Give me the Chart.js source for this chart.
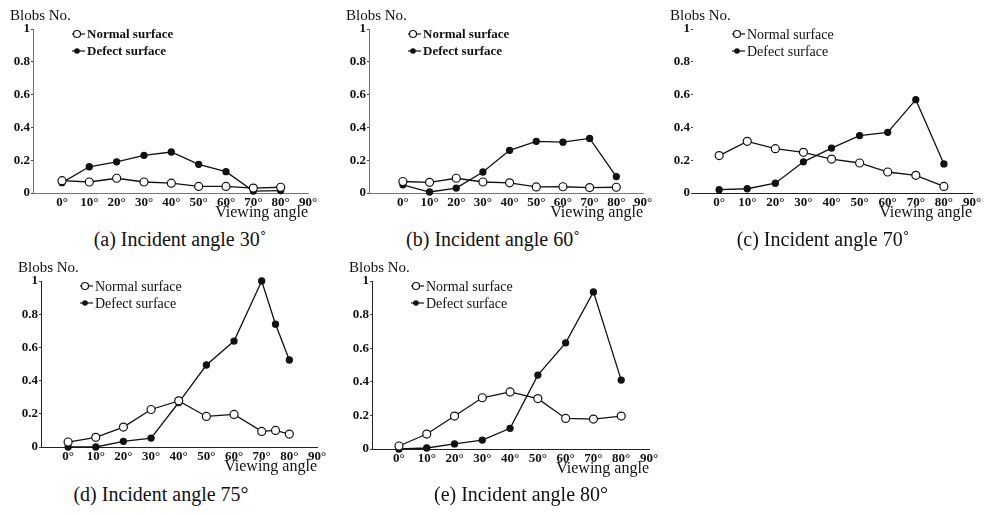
<!DOCTYPE html>
<html>
<head>
<meta charset="utf-8">
<script src="https://cdn.jsdelivr.net/npm/chart.js@4.4.0/dist/chart.umd.min.js"></script>
<style>
body { margin: 0; background: #fff; }
#wrap { position: relative; width: 984px; height: 516px; overflow: hidden; font-family: "Liberation Serif", serif; }
#wrap canvas { position: absolute; }
.cap { position: absolute; font-size: 20px; line-height: 20px; color: #111; white-space: nowrap; transform: translateX(-50%); }
</style>
</head>
<body>
<div id="wrap"></div>
<script>
// viewing angles (deg)
var angles = [0, 10, 20, 30, 40, 50, 60, 70, 80];
var anglesD = [0, 10, 20, 30, 40, 50, 60, 70, 75, 80];
var xTicks = [0, 10, 20, 30, 40, 50, 60, 70, 80, 90];
var yTicks = [0, 0.2, 0.4, 0.6, 0.8, 1];
var yTickLabels = ["0", "0.2", "0.4", "0.6", "0.8", "1"];

// blobs no. (normalised)
var normalA = [0.075, 0.067, 0.09, 0.067, 0.06, 0.04, 0.04, 0.03, 0.035];
var defectA = [0.063, 0.16, 0.19, 0.23, 0.25, 0.175, 0.13, 0.012, 0.015];
var normalB = [0.07, 0.065, 0.09, 0.067, 0.062, 0.037, 0.038, 0.033, 0.035];
var defectB = [0.05, 0.006, 0.03, 0.128, 0.26, 0.315, 0.31, 0.333, 0.10];
var normalC = [0.228, 0.315, 0.27, 0.248, 0.207, 0.183, 0.128, 0.108, 0.04];
var defectC = [0.02, 0.026, 0.06, 0.19, 0.274, 0.35, 0.37, 0.569, 0.177];
var normalD = [0.03, 0.058, 0.12, 0.226, 0.278, 0.184, 0.196, 0.094, 0.10, 0.078];
var defectD = [0.0, 0.0, 0.034, 0.054, 0.268, 0.494, 0.638, 1.0, 0.74, 0.524];
var normalE = [0.018, 0.089, 0.196, 0.305, 0.34, 0.30, 0.182, 0.178, 0.196];
var defectE = [0.0, 0.006, 0.03, 0.053, 0.123, 0.44, 0.632, 0.935, 0.41];

var legendNames = ["Normal surface", "Defect surface"];

var panels = [
    { x: angles, normal: normalA, defect: defectA, L: 33, R: 308, T: 29, B: 193, xMin: -10.6, dotted: true, boldLegend: true,
      caption: "(a) Incident angle 30\u02DA", capX: 180, capY: 229 },
    { x: angles, normal: normalB, defect: defectB, L: 369, R: 643, T: 29, B: 193, xMin: -12.7, dotted: true, boldLegend: true,
      caption: "(b) Incident angle 60\u02DA", capX: 493, capY: 229 },
    { x: angles, normal: normalC, defect: defectC, L: 693, R: 972, T: 29, B: 193, xMin: -9.3, dotted: false, boldLegend: false, noYLine: true,
      caption: "(c) Incident angle 70\u02DA", capX: 823, capY: 229 },
    { x: anglesD, normal: normalD, defect: defectD, L: 41, R: 317, T: 281, B: 447, xMin: -9.8, dotted: false, boldLegend: false,
      caption: "(d) Incident angle 75\u00B0", capX: 161, capY: 484 },
    { x: angles, normal: normalE, defect: defectE, L: 372, R: 649, T: 281, B: 449, xMin: -9.7, dotted: false, boldLegend: false,
      caption: "(e) Incident angle 80\u00B0", capX: 521, capY: 484 }
];

var extraText = {
    id: 'extraText',
    afterDraw: function (chart, args, opts) {
        var ctx = chart.ctx;
        var a = chart.chartArea;
        ctx.save();
        // y axis name, written flat above the axis
        ctx.fillStyle = '#111';
        ctx.font = '15px "Liberation Serif", serif';
        ctx.textAlign = 'left';
        ctx.textBaseline = 'middle';
        ctx.fillText('Blobs No.', a.left - 23, a.top - 13);

        // legend inside the plot
        var mx = a.left + 44;
        var my = a.top + 5;
        ctx.font = (opts.bold ? 'bold 13px' : '14px') + ' "Liberation Serif", serif';
        for (var i = 0; i < 2; i++) {
            var y = my + i * 17;
            ctx.strokeStyle = '#111';
            ctx.lineWidth = 1.2;
            ctx.beginPath();
            ctx.moveTo(mx - 5, y);
            ctx.lineTo(mx + 8, y);
            ctx.stroke();
            ctx.beginPath();
            if (i == 0) {
                ctx.arc(mx, y, 3.5, 0, Math.PI * 2);
                ctx.fillStyle = '#fff';
                ctx.fill();
                ctx.stroke();
            } else {
                ctx.arc(mx, y, 2.8, 0, Math.PI * 2);
                ctx.fillStyle = '#111';
                ctx.fill();
            }
            ctx.fillStyle = '#111';
            ctx.fillText(legendNames[i], mx + 10, y + 1);
        }
        ctx.restore();
    }
};

function toPoints(xs, ys) {
    return xs.map(function (v, i) { return { x: v, y: ys[i] }; });
}

function makePanel(p) {
    var wrap = document.getElementById('wrap');
    var cx = p.L - 34, cy = p.T - 24;
    var cw = p.R - cx + 26, ch = p.B - cy + 34;
    var canvas = document.createElement('canvas');
    canvas.width = cw;
    canvas.height = ch;
    canvas.style.left = cx + 'px';
    canvas.style.top = cy + 'px';
    canvas.style.width = cw + 'px';
    canvas.style.height = ch + 'px';
    wrap.appendChild(canvas);

    var cap = document.createElement('div');
    cap.className = 'cap';
    cap.style.left = p.capX + 'px';
    cap.style.top = p.capY + 'px';
    cap.textContent = p.caption;
    wrap.appendChild(cap);

    var axisColor = p.dotted ? '#777' : '#222';
    var axisDash = p.dotted ? [1, 2] : [];

    new Chart(canvas.getContext('2d'), {
        type: 'line',
        data: {
            datasets: [{
                label: legendNames[0],
                data: toPoints(p.x, p.normal),
                borderColor: '#111',
                borderWidth: 1.3,
                pointRadius: 4,
                pointBackgroundColor: '#fff',
                pointBorderColor: '#111',
                pointBorderWidth: 1.2,
                tension: 0
            }, {
                label: legendNames[1],
                data: toPoints(p.x, p.defect),
                borderColor: '#111',
                borderWidth: 1.3,
                pointRadius: 3,
                pointBackgroundColor: '#111',
                pointBorderColor: '#111',
                tension: 0
            }]
        },
        options: {
            responsive: false,
            animation: false,
            clip: false,
            layout: { padding: { top: 24, right: 26, left: 0, bottom: 0 } },
            plugins: {
                legend: { display: false },
                tooltip: { enabled: false },
                extraText: { bold: p.boldLegend }
            },
            scales: {
                x: {
                    type: 'linear',
                    min: p.xMin,
                    max: 90,
                    afterBuildTicks: function (s) { s.ticks = xTicks.map(function (v) { return { value: v }; }); },
                    afterFit: function (s) { s.height = 34; },
                    grid: { display: false, drawTicks: false },
                    border: { display: true, color: axisColor, width: 1, dash: axisDash },
                    ticks: {
                        padding: 2,
                        color: '#111',
                        maxRotation: 0,
                        font: { family: '"Liberation Serif", serif', size: 13, weight: 'bold' },
                        callback: function (v) { return v + '\u00B0'; }
                    },
                    title: {
                        display: true,
                        text: 'Viewing angle',
                        align: 'end',
                        color: '#111',
                        padding: { top: 0, bottom: 5 },
                        font: { family: '"Liberation Serif", serif', size: 16 }
                    }
                },
                y: {
                    min: 0,
                    max: 1,
                    afterBuildTicks: function (s) { s.ticks = yTicks.map(function (v) { return { value: v }; }); },
                    afterFit: function (s) { s.width = 34; },
                    grid: { display: true, drawOnChartArea: false, drawTicks: true, tickLength: 2, color: '#444' },
                    border: { display: !p.noYLine, color: axisColor, width: 1, dash: axisDash },
                    ticks: {
                        padding: 1,
                        color: '#111',
                        font: { family: '"Liberation Serif", serif', size: 13, weight: 'bold' },
                        callback: function (v, i) { return yTickLabels[i]; }
                    }
                }
            }
        },
        plugins: [extraText]
    });
}

for (var i = 0; i < panels.length; i++) {
    makePanel(panels[i]);
}
</script>
</body>
</html>
